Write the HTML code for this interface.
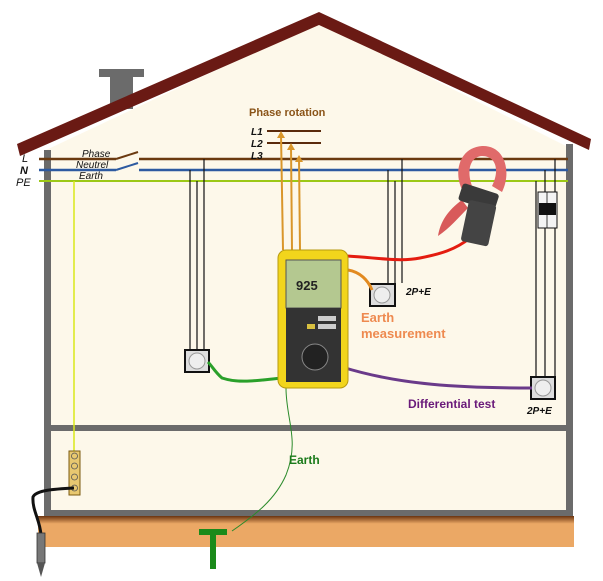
<!DOCTYPE html>
<html><head><meta charset="utf-8"><style>
html,body{margin:0;padding:0;background:#fff;width:603px;height:581px;overflow:hidden}
svg{display:block}
text{font-family:"Liberation Sans",sans-serif}
</style></head><body>
<svg width="603" height="581" viewBox="0 0 603 581" xmlns="http://www.w3.org/2000/svg">
<defs><linearGradient id="g" x1="0" y1="0" x2="0" y2="1"><stop offset="0" stop-color="#6a3410"/><stop offset="0.25" stop-color="#eba865"/><stop offset="1" stop-color="#eba865"/></linearGradient></defs>
<polygon points="46,150 319,22 570,148 570,516 46,516" fill="#fdf8ea"/>
<rect x="99" y="69" width="45" height="8" fill="#6b6b6b"/>
<rect x="110" y="69" width="23" height="40" fill="#6b6b6b"/>
<polygon points="17,144 319,12 591,139 589,150 319,25 20,156" fill="#6a1a14"/>
<rect x="44" y="150" width="7" height="368" fill="#6b6b6b"/>
<rect x="566" y="144" width="7" height="374" fill="#6b6b6b"/>
<rect x="44" y="425" width="529" height="6" fill="#6b6b6b"/>
<rect x="44" y="510" width="529" height="6" fill="#6b6b6b"/>
<rect x="38" y="516" width="536" height="31" fill="url(#g)"/>
<line x1="39" y1="159" x2="116" y2="159" stroke="#6b3a10" stroke-width="2.5"/>
<line x1="139" y1="159" x2="568" y2="159" stroke="#6b3a10" stroke-width="2.5"/>
<line x1="116" y1="159" x2="138" y2="152" stroke="#6b3a10" stroke-width="2"/>
<line x1="39" y1="170" x2="116" y2="170" stroke="#2d5aa0" stroke-width="2.5"/>
<line x1="139" y1="170" x2="568" y2="170" stroke="#2d5aa0" stroke-width="2.5"/>
<line x1="116" y1="170" x2="138" y2="163" stroke="#2d5aa0" stroke-width="2"/>
<line x1="39" y1="181" x2="568" y2="181" stroke="#9cc817" stroke-width="2"/>
<text x="22" y="162" font-size="11" font-style="italic" fill="#111">L</text>
<text x="20" y="174" font-size="11" font-style="italic" font-weight="bold" fill="#111">N</text>
<text x="16" y="186" font-size="11" font-style="italic" fill="#111">PE</text>
<text x="82" y="157" font-size="10" font-style="italic" fill="#111">Phase</text>
<text x="76" y="168" font-size="10" font-style="italic" fill="#111">Neutrel</text>
<text x="79" y="179" font-size="10" font-style="italic" fill="#111">Earth</text>
<line x1="74" y1="181" x2="74" y2="452" stroke="#d9e81a" stroke-width="1.5"/>
<rect x="69" y="451" width="11" height="44" fill="#e8c870" stroke="#7a5a10" stroke-width="1"/>
<g fill="none" stroke="#555" stroke-width="0.8"><circle cx="74.5" cy="456" r="3"/><circle cx="74.5" cy="466" r="3"/><circle cx="74.5" cy="477" r="3"/><circle cx="74.5" cy="488" r="3"/></g>
<path d="M74,488 C55,489 36,490 33,497 C32,510 40,520 41,535" fill="none" stroke="#111" stroke-width="3"/>
<rect x="37" y="533" width="8" height="30" fill="#777" stroke="#333" stroke-width="0.8"/>
<polygon points="37,563 45,563 41,577" fill="#555"/>
<g stroke="#111" stroke-width="1.2">
<line x1="190" y1="170" x2="190" y2="352"/><line x1="197" y1="181" x2="197" y2="352"/><line x1="204" y1="159" x2="204" y2="352"/>
<line x1="388" y1="170" x2="388" y2="283"/><line x1="395" y1="181" x2="395" y2="283"/><line x1="402" y1="159" x2="402" y2="283"/>
<line x1="536" y1="181" x2="536" y2="377"/><line x1="545" y1="170" x2="545" y2="377"/><line x1="555" y1="159" x2="555" y2="377"/>
</g>
<rect x="185" y="350" width="24" height="22" fill="#ddd" stroke="#111" stroke-width="2"/>
<circle cx="197" cy="361" r="8" fill="#eee" stroke="#999"/>
<rect x="370" y="284" width="25" height="22" fill="#ddd" stroke="#111" stroke-width="2"/>
<circle cx="382" cy="295" r="8" fill="#eee" stroke="#999"/>
<rect x="531" y="377" width="24" height="22" fill="#ddd" stroke="#111" stroke-width="2"/>
<circle cx="543" cy="388" r="8" fill="#eee" stroke="#999"/>
<rect x="538" y="192" width="19" height="36" fill="#f4f4f4" stroke="#111" stroke-width="1"/>
<rect x="539" y="203" width="17" height="12" fill="#111"/>
<line x1="547" y1="192" x2="547" y2="228" stroke="#111" stroke-width="0.8"/>
<text x="249" y="116" font-size="11" font-weight="bold" fill="#8a5418">Phase rotation</text>
<text x="251" y="135" font-size="10" font-style="italic" font-weight="bold" fill="#111">L1</text>
<text x="251" y="147" font-size="10" font-style="italic" font-weight="bold" fill="#111">L2</text>
<text x="251" y="159" font-size="10" font-style="italic" font-weight="bold" fill="#111">L3</text>
<line x1="267" y1="131" x2="321" y2="131" stroke="#5a2a0c" stroke-width="2"/>
<line x1="267" y1="143" x2="321" y2="143" stroke="#5a2a0c" stroke-width="2"/>
<g stroke="#d9962a" stroke-width="2" fill="none">
<path d="M283,250 L281,134"/><path d="M292,250 L291,146"/><path d="M300,250 L299,158"/>
</g>
<g fill="#d9962a"><polygon points="277,138 281,131 285,138"/><polygon points="287,150 291,143 295,150"/><polygon points="295,162 299,155 303,162"/></g>
<path d="M347,256 C380,258 400,262 420,258 C440,254 455,250 470,238" fill="none" stroke="#e41c10" stroke-width="3"/>
<path d="M348,270 C360,272 368,280 372,290" fill="none" stroke="#e28a20" stroke-width="3"/>
<path d="M342,367 C400,385 460,388 532,388" fill="none" stroke="#6a3a8a" stroke-width="3"/>
<path d="M282,378 C260,380 240,384 222,378 C215,372 212,366 208,362" fill="none" stroke="#2aa02a" stroke-width="3"/>
<path d="M286,388 C286,420 300,440 286,475 C275,500 255,515 232,531" fill="none" stroke="#2a8a2a" stroke-width="1"/>
<path d="M468,198 C452,182 455,148 482,146 C505,145 512,172 502,192 L492,186 C500,170 496,156 482,156 C467,157 466,178 476,194 Z" fill="#e06a6a"/>
<path d="M462,200 C448,210 440,222 438,236 C450,228 458,218 468,208 Z" fill="#d85a5a"/>
<rect x="460" y="188" width="38" height="18" rx="3" fill="#3a3a3a" transform="rotate(18 478 196)"/>
<rect x="465" y="202" width="28" height="42" rx="3" fill="#444" transform="rotate(12 478 221)"/>
<rect x="278" y="250" width="70" height="138" rx="8" fill="#f2d51c" stroke="#b89a10" stroke-width="1"/>
<rect x="286" y="260" width="55" height="48" fill="#b4c890" stroke="#555"/>
<text x="296" y="290" font-size="13" font-weight="bold" fill="#222">925</text>
<rect x="286" y="308" width="55" height="74" fill="#333"/>
<circle cx="315" cy="357" r="13" fill="#222" stroke="#888"/>
<rect x="307" y="324" width="8" height="5" fill="#d8c040"/>
<rect x="318" y="316" width="18" height="5" fill="#ccc"/>
<rect x="318" y="324" width="18" height="5" fill="#ccc"/>
<text x="406" y="295" font-size="10" font-style="italic" font-weight="bold" fill="#111">2P+E</text>
<text x="361" y="322" font-size="13" font-weight="bold" fill="#ee8a50">Earth</text>
<text x="361" y="338" font-size="13" font-weight="bold" fill="#ee8a50">measurement</text>
<text x="408" y="408" font-size="12" font-weight="bold" fill="#6a1a7a">Differential test</text>
<text x="527" y="414" font-size="10" font-style="italic" font-weight="bold" fill="#111">2P+E</text>
<text x="289" y="464" font-size="12" font-weight="bold" fill="#1a7a1a">Earth</text>
<rect x="199" y="529" width="28" height="6" fill="#1a8a1a"/>
<rect x="210" y="529" width="6" height="40" fill="#1a8a1a"/>
</svg>
</body></html>
